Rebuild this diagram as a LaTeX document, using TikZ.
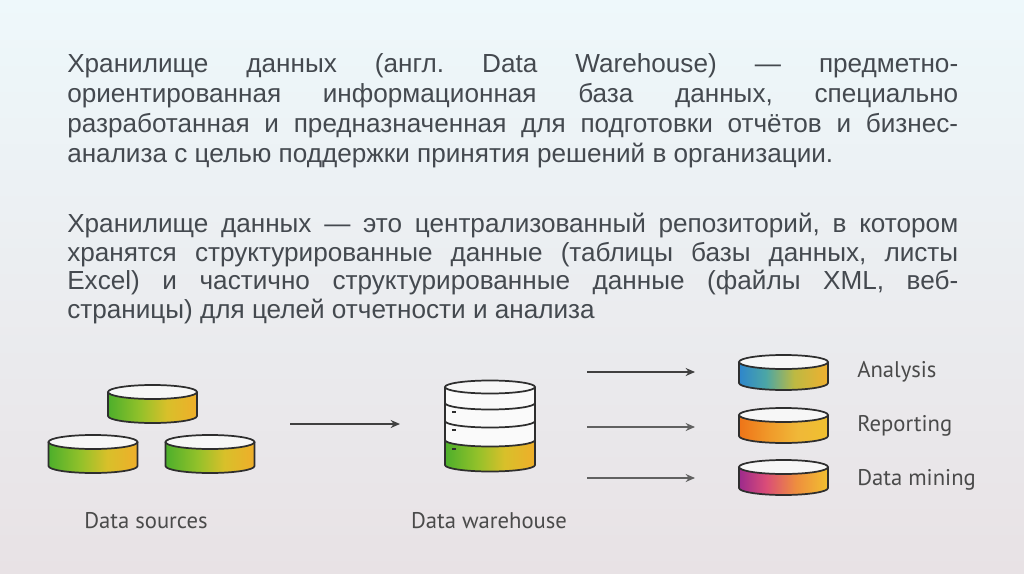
\documentclass[tikz,border=0pt]{standalone}
\usepackage{fontspec}
\setmainfont{Liberation Sans}
\newfontfamily\labelfont{PT Sans}
\usetikzlibrary{arrows.meta}
\frenchspacing
\definecolor{bgtop}{HTML}{EEF8FB}
\definecolor{bgmid}{HTML}{F1F4F6}
\definecolor{bgbot}{HTML}{E8E2E5}
\definecolor{txt}{HTML}{44494F}
\definecolor{lbl}{HTML}{4A4A4A}
\definecolor{rim}{HTML}{2E2E2E}
\definecolor{srcA}{HTML}{4DAF2B}
\definecolor{srcB}{HTML}{93C12A}
\definecolor{srcC}{HTML}{D8C02A}
\definecolor{srcD}{HTML}{EFAE2A}
\definecolor{anA}{HTML}{2E86CC}
\definecolor{anB}{HTML}{4BA6A6}
\definecolor{anC}{HTML}{BDB942}
\definecolor{anD}{HTML}{F0B030}
\definecolor{rpA}{HTML}{EE7418}
\definecolor{rpB}{HTML}{F09A2A}
\definecolor{rpC}{HTML}{F0B838}
\definecolor{rpD}{HTML}{F0C030}
\definecolor{dmA}{HTML}{9C2A8C}
\definecolor{dmB}{HTML}{DA4C78}
\definecolor{dmC}{HTML}{EE8E3E}
\definecolor{dmD}{HTML}{F2C030}
\pgfdeclarehorizontalshading{srcsh}{100bp}{color(0bp)=(srcA); color(25bp)=(srcA); color(43bp)=(srcB); color(58bp)=(srcC); color(75bp)=(srcD); color(100bp)=(srcD)}
\pgfdeclarehorizontalshading{ansh}{100bp}{color(0bp)=(anA); color(25bp)=(anA); color(40bp)=(anB); color(56bp)=(anC); color(75bp)=(anD); color(100bp)=(anD)}
\pgfdeclarehorizontalshading{rpsh}{100bp}{color(0bp)=(rpA); color(25bp)=(rpA); color(42bp)=(rpB); color(58bp)=(rpC); color(75bp)=(rpD); color(100bp)=(rpD)}
\pgfdeclarehorizontalshading{dmsh}{100bp}{color(0bp)=(dmA); color(25bp)=(dmA); color(40bp)=(dmB); color(57bp)=(dmC); color(75bp)=(dmD); color(100bp)=(dmD)}
\tikzset{
  bodytext/.style={anchor=base west, inner sep=0pt, text=txt, font=\fontsize{19.6}{23}\selectfont},
  lbltext/.style={inner sep=0pt, text=lbl, font=\labelfont\fontsize{17}{20}\selectfont},
  rimline/.style={draw=rim, line width=1.3pt},
  topface/.style={fill=white!94!gray},
  flow/.style={draw=black!75, line width=1.2pt, -{Stealth[length=7pt,width=6pt]}}
}
% disk: name, cx, top centre y, rx, ry, h, shading
\newcommand\mydisk[7]{%
  \shade[shading=#7] (#2-#4,#3) -- (#2-#4,#3+#6) arc[start angle=180,end angle=0,x radius=#4,y radius=#5] -- (#2+#4,#3) arc[start angle=0,end angle=180,x radius=#4,y radius=#5] -- cycle;
  \filldraw[topface, rimline] (#2,#3) ellipse[x radius=#4, y radius=#5];
  \draw[rimline] (#2-#4,#3) -- (#2-#4,#3+#6) arc[start angle=180,end angle=0,x radius=#4,y radius=#5] -- (#2+#4,#3);
  \node[inner sep=0pt, minimum width=2*#4*0.75pt, minimum height=(#6+2*#5)*0.75pt] (#1) at (#2,#3+#6/2) {};
}
\begin{document}
\begin{tikzpicture}[x=0.75pt, y=-0.75pt]
\useasboundingbox (0,0) rectangle (1024,574);
\shade[top color=bgtop, middle color=bgmid, bottom color=bgbot] (0,0) rectangle (1024,574);

% paragraph 1
\node[bodytext] (p1a) at (67,73) {\makebox[668.25pt][s]{Хранилище данных (англ. Data Warehouse) — предметно-}};
\node[bodytext] (p1b) at (67,103) {\makebox[668.25pt][s]{ориентированная информационная база данных, специально}};
\node[bodytext] (p1c) at (67,133) {\makebox[668.25pt][s]{разработанная и предназначенная для подготовки отчётов и бизнес-}};
\node[bodytext] (p1d) at (67,162) {анализа с целью поддержки принятия решений в организации.};

% paragraph 2
\node[bodytext] (p2a) at (67,232) {\makebox[668.25pt][s]{Хранилище данных — это централизованный репозиторий, в котором}};
\node[bodytext] (p2b) at (67,261) {\makebox[668.25pt][s]{хранятся структурированные данные (таблицы базы данных, листы}};
\node[bodytext] (p2c) at (67,289) {\makebox[668.25pt][s]{Excel) и частично структурированные данные (файлы XML, веб-}};
\node[bodytext] (p2d) at (67,318) {страницы) для целей отчетности и анализа};

% data sources
\mydisk{s1}{152.5}{392}{44.5}{7}{24}{srcsh}
\mydisk{s2}{93}{442}{44.5}{7}{24}{srcsh}
\mydisk{s3}{210}{442}{44.5}{7}{24}{srcsh}
\node[lbltext] (lsrc) at (146,521) {Data sources};

% warehouse
\shade[shading=srcsh] (445,440) -- (445,465) arc[start angle=180,end angle=0,x radius=45,y radius=6.5] -- (535,440) arc[start angle=0,end angle=180,x radius=45,y radius=6.5] -- cycle;
\fill[white!96!gray] (445,387) -- (445,440) arc[start angle=180,end angle=0,x radius=45,y radius=6.5] -- (535,387) arc[start angle=0,end angle=180,x radius=45,y radius=6.5] -- cycle;
\filldraw[topface, rimline] (490,387) ellipse[x radius=45, y radius=6.5];
\draw[rimline] (445,403) arc[start angle=180,end angle=0,x radius=45,y radius=6.5];
\draw[rimline] (445,421) arc[start angle=180,end angle=0,x radius=45,y radius=6.5];
\draw[rimline] (445,440) arc[start angle=180,end angle=0,x radius=45,y radius=6.5];
\draw[rimline] (445,387) -- (445,465) arc[start angle=180,end angle=0,x radius=45,y radius=6.5] -- (535,387);
\draw[rim, line width=0.8pt] (452,412) -- (456,412) (452,430) -- (456,430) (452,449) -- (456,449);
\node[inner sep=0pt, minimum width=67.5pt, minimum height=69pt] (wh) at (490,426) {};
\node[lbltext] (lwh) at (489,521) {Data warehouse};

% outputs
\mydisk{o1}{783.5}{362}{44.5}{7}{21}{ansh}
\mydisk{o2}{783.5}{415}{44.5}{7}{21}{rpsh}
\mydisk{o3}{783.5}{467}{44.5}{7}{21}{dmsh}
\node[lbltext, anchor=west] (l1) at (857,372) {Analysis};
\node[lbltext, anchor=west] (l2) at (857,426) {Reporting};
\node[lbltext, anchor=west] (l3) at (857,480) {Data mining};

% arrows
\coordinate (a0s) at (290,424); \coordinate (a0e) at (400,424);
\coordinate (a1s) at (587,372); \coordinate (a1e) at (695,372);
\coordinate (a2s) at (587,427); \coordinate (a2e) at (695,427);
\coordinate (a3s) at (587,478); \coordinate (a3e) at (695,478);
\draw[flow] (a0s) -- (a0e);
\draw[flow] (a1s) -- (a1e);
\draw[flow, draw=black!62] (a2s) -- (a2e);
\draw[flow, draw=black!62] (a3s) -- (a3e);
\end{tikzpicture}
\end{document}
